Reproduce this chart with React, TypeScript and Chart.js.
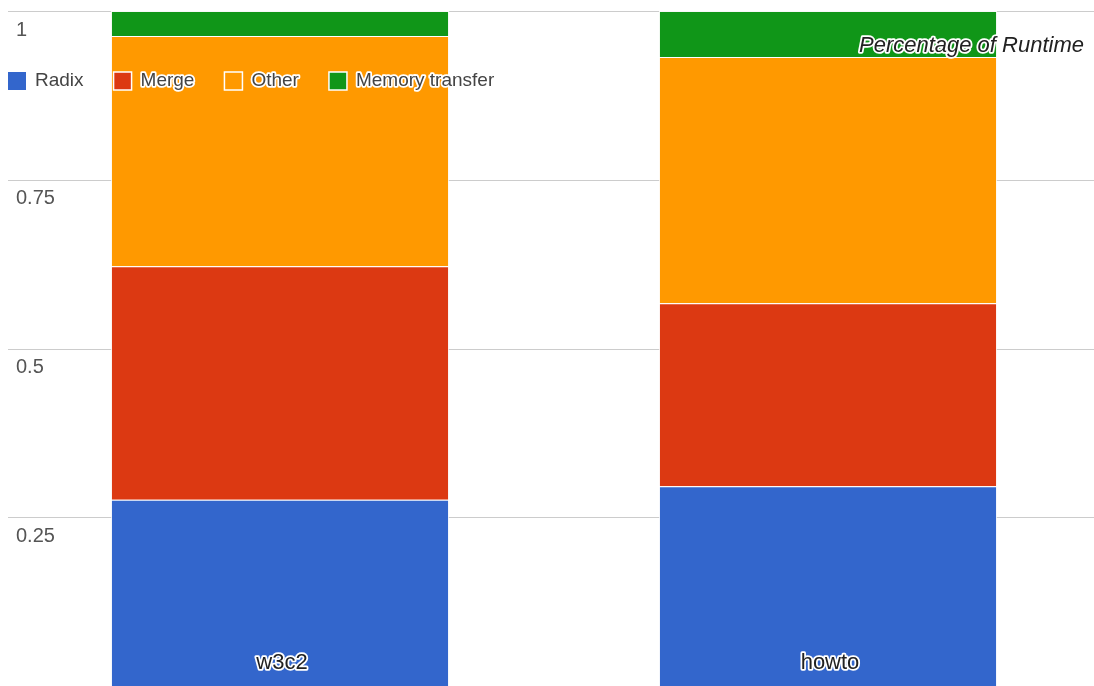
import React, { useEffect, useRef } from "react";
import { Chart, registerables } from "chart.js";

Chart.register(...registerables);

const categories = ["w3c2", "howto"];
const seriesNames = ["Radix", "Merge", "Other", "Memory transfer"];
const seriesColors = ["#3366cc", "#dc3912", "#ff9900", "#109618"];
const radix = [0.276, 0.296];
const merge = [0.346, 0.271];
const other = [0.341, 0.365];
const memoryTransfer = [0.037, 0.068];
const yTicks = [1, 0.75, 0.5, 0.25];
const yTickLabels = ["1", "0.75", "0.5", "0.25"];
const chartTitle = "Percentage of Runtime";

const FONT = "Arial, 'Liberation Sans', sans-serif";

function haloText(
  ctx: CanvasRenderingContext2D,
  text: string,
  x: number,
  y: number,
  font: string,
  color: string,
  align: CanvasTextAlign
) {
  ctx.save();
  ctx.font = font;
  ctx.textAlign = align;
  ctx.textBaseline = "middle";
  ctx.lineJoin = "round";
  ctx.lineWidth = 3.5;
  ctx.strokeStyle = "#ffffff";
  ctx.strokeText(text, x, y);
  ctx.fillStyle = color;
  ctx.fillText(text, x, y);
  ctx.restore();
}

const overlayPlugin = {
  id: "overlay",
  beforeDatasetsDraw(chart: any) {
    const ctx = chart.ctx as CanvasRenderingContext2D;
    const yScale = chart.scales.y;
    ctx.save();
    ctx.strokeStyle = "#cccccc";
    ctx.lineWidth = 1;
    yTicks.forEach((v) => {
      const y = Math.round(yScale.getPixelForValue(v)) + 0.5;
      ctx.beginPath();
      ctx.moveTo(8, y);
      ctx.lineTo(chart.width, y);
      ctx.stroke();
    });
    ctx.restore();
  },
  afterDatasetsDraw(chart: any) {
    const ctx = chart.ctx as CanvasRenderingContext2D;
    const yScale = chart.scales.y;
    const xScale = chart.scales.x;
    // y tick labels
    yTicks.forEach((v, i) => {
      const y = yScale.getPixelForValue(v) + 19;
      ctx.save();
      ctx.font = `20px ${FONT}`;
      ctx.fillStyle = "#555555";
      ctx.textAlign = "left";
      ctx.textBaseline = "middle";
      ctx.fillText(yTickLabels[i], 16, y);
      ctx.restore();
    });
    // category labels inside bars
    categories.forEach((c, i) => {
      const x = xScale.getPixelForValue(i);
      haloText(ctx, c, x + 2, chart.chartArea.bottom - 23, `22px ${FONT}`, "#222222", "center");
    });
    // legend
    let x = 8;
    const ly = 81;
    chart.data.datasets.forEach((ds: any, i: number) => {
      ctx.save();
      ctx.fillStyle = ds.backgroundColor;
      ctx.strokeStyle = "#ffffff";
      ctx.lineWidth = 1.5;
      ctx.fillRect(x, ly - 9, 18, 18);
      if (i > 0) ctx.strokeRect(x, ly - 9, 18, 18);
      ctx.restore();
      const tx = x + 27;
      ctx.save();
      ctx.font = `19px ${FONT}`;
      const w = ctx.measureText(ds.label).width;
      ctx.restore();
      haloText(ctx, ds.label, tx, ly, `19px ${FONT}`, "#444444", "left");
      x = tx + w + 30;
    });
    // title
    haloText(ctx, chartTitle, 1084, 46, `italic 22px ${FONT}`, "#222222", "right");
  },
};

export default function App() {
  const canvasRef = useRef<HTMLCanvasElement | null>(null);
  useEffect(() => {
    const canvas = canvasRef.current;
    if (!canvas) return;
    const values = [radix, merge, other, memoryTransfer];
    const chart = new Chart(canvas, {
      type: "bar",
      data: {
        labels: categories,
        datasets: seriesNames.map((name, i) => ({
          label: name,
          data: values[i],
          backgroundColor: seriesColors[i],
          borderColor: "rgba(255,255,255,0.85)",
          borderWidth: 1,
          borderSkipped: "bottom",
          barPercentage: 0.617,
          categoryPercentage: 1,
        })),
      },
      options: {
        responsive: false,
        animation: false,
        layout: { padding: { left: 6, right: 0, top: 11, bottom: 0 } },
        plugins: {
          legend: { display: false },
          title: { display: false },
          tooltip: { enabled: false },
        },
        scales: {
          x: { stacked: true, display: false },
          y: {
            stacked: true,
            min: 0,
            max: 1,
            display: false,
          },
        },
      },
      plugins: [overlayPlugin],
    });
    return () => chart.destroy();
  }, []);
  return (
    <div
      style={{
        position: "fixed",
        left: 0,
        top: 0,
        width: 1094,
        height: 686,
        overflow: "hidden",
        background: "#fff",
      }}
    >
      <canvas ref={canvasRef} width={1102} height={686} style={{ display: "block" }} />
    </div>
  );
}
